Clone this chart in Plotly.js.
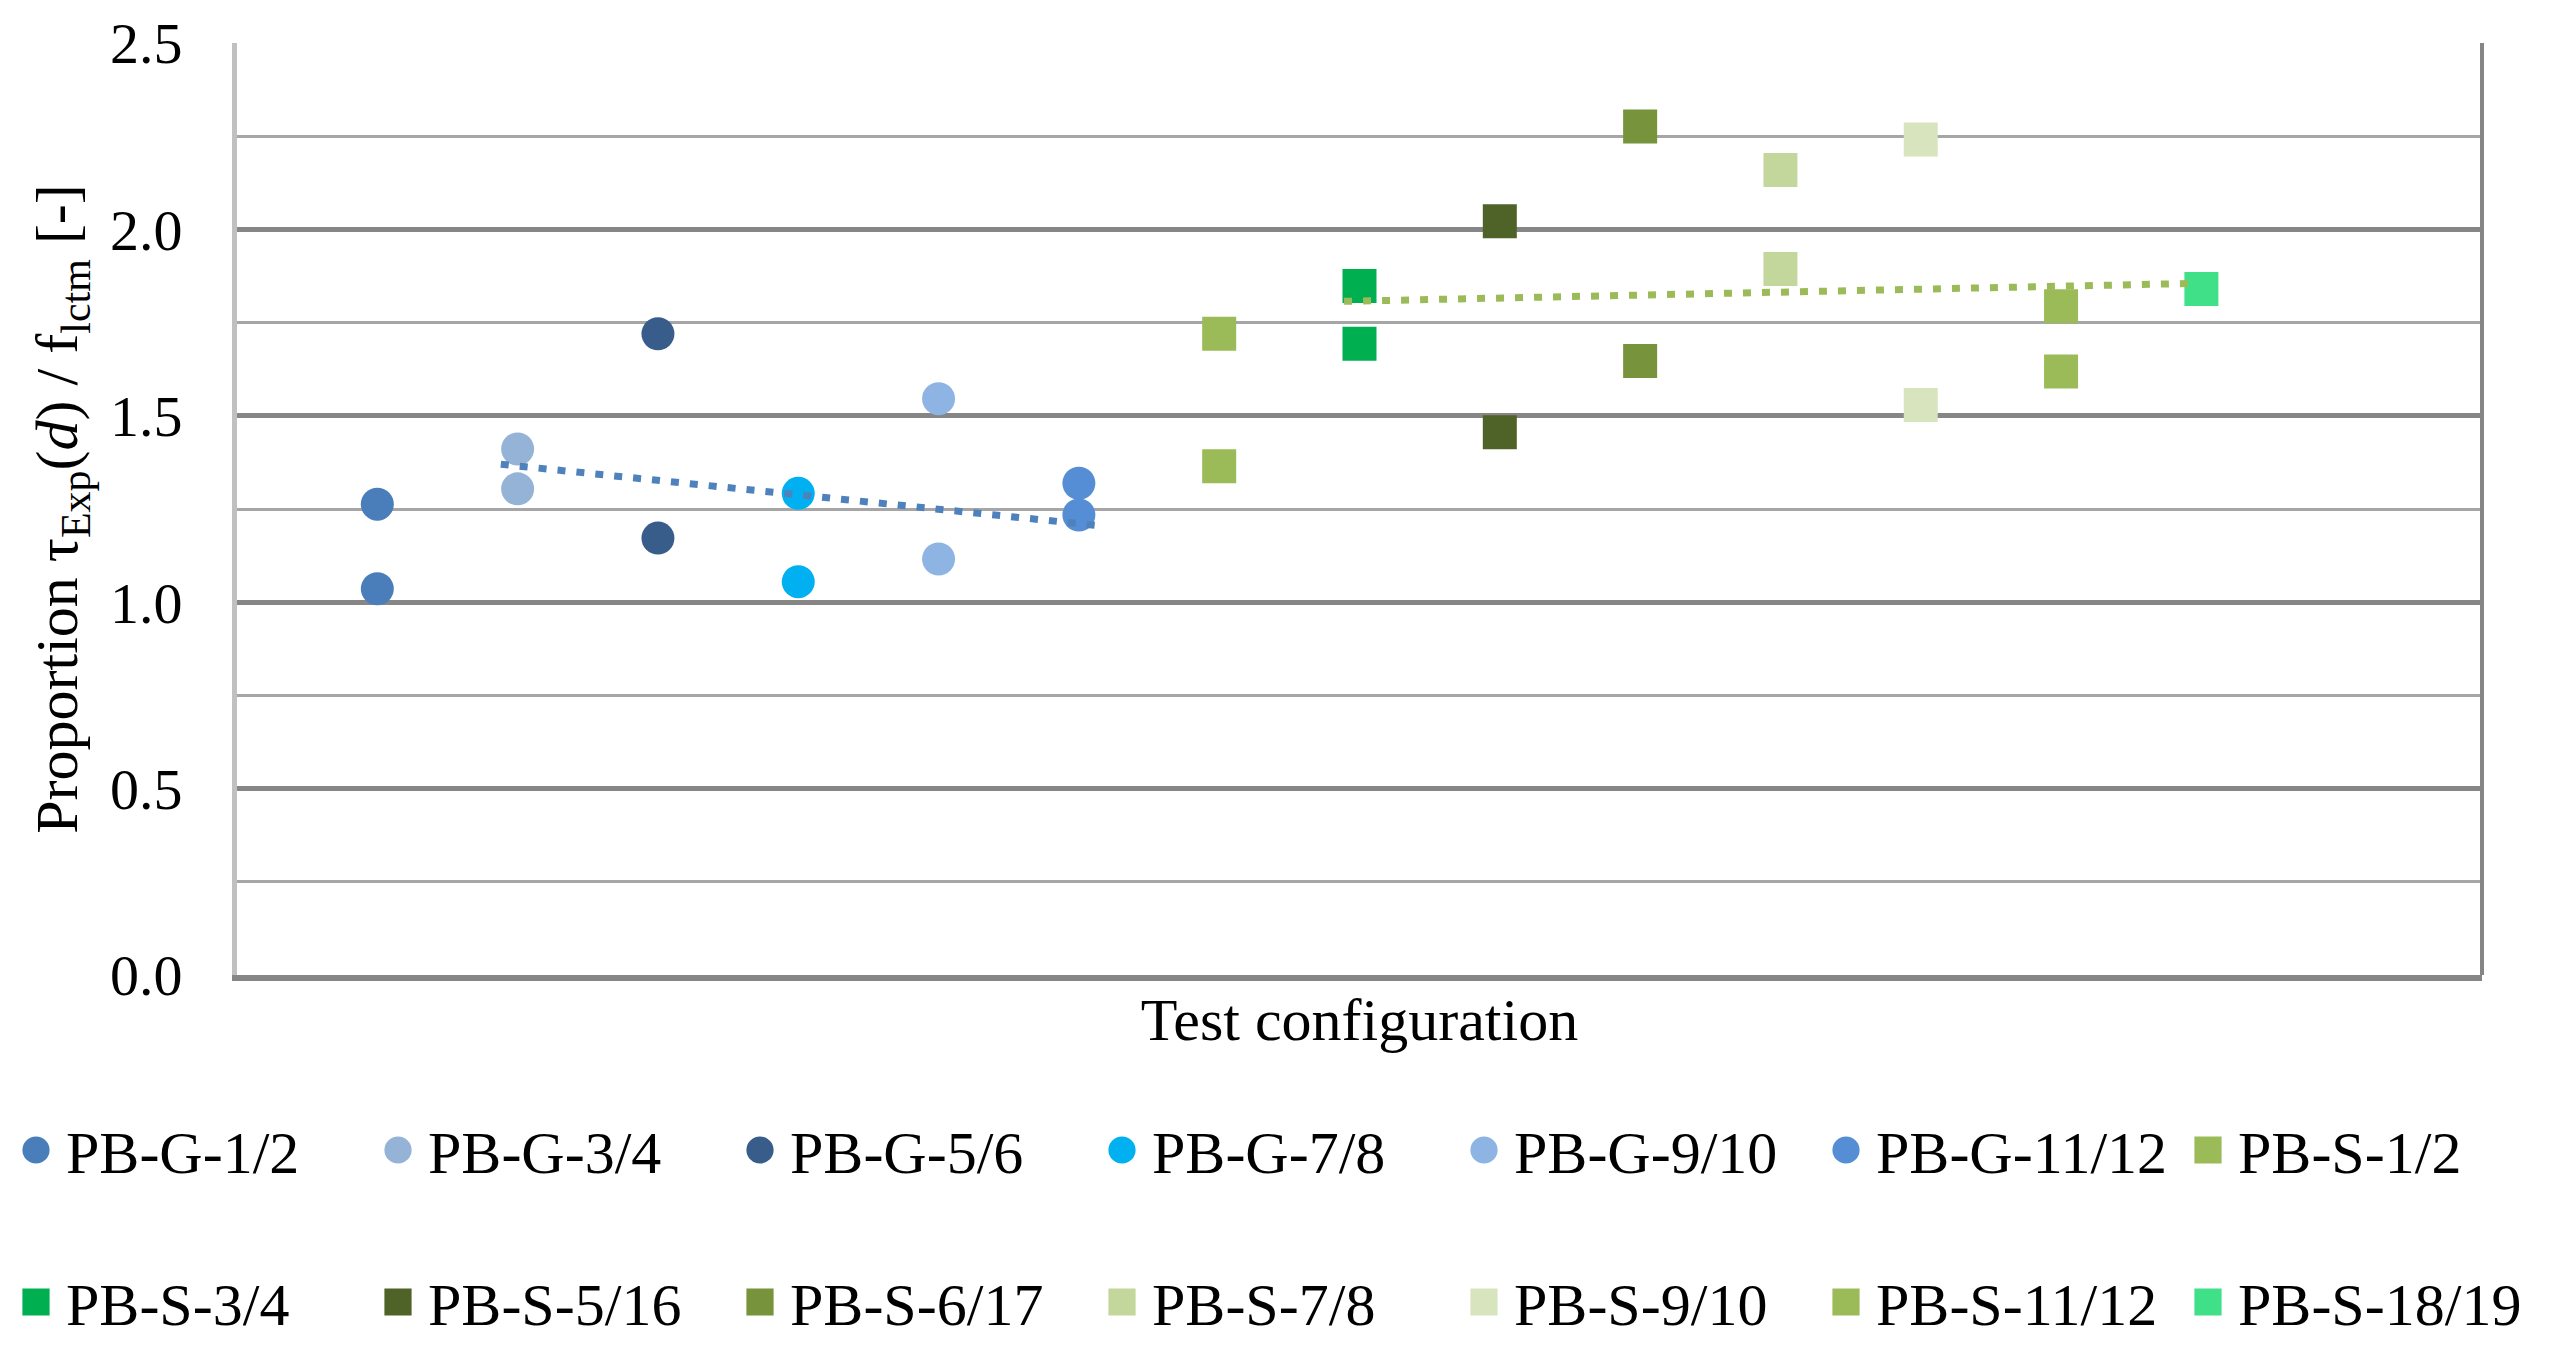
<!DOCTYPE html>
<html><head><meta charset="utf-8">
<script src="https://cdn.plot.ly/plotly-3.0.1.min.js"></script>
<style>html,body{margin:0;padding:0;background:#fff}#chart{width:2550px;height:1357px}</style>
</head><body><div id="chart"></div>
<script>
// ---- data ----
const seriesNames = ['PB-G-1/2','PB-G-3/4','PB-G-5/6','PB-G-7/8','PB-G-9/10','PB-G-11/12','PB-S-1/2',
                     'PB-S-3/4','PB-S-5/16','PB-S-6/17','PB-S-7/8','PB-S-9/10','PB-S-11/12','PB-S-18/19'];
const configPos = [1,2,3,4,5,6,7,8,9,10,11,12,13,14];
const G12   = [1.263, 1.036];
const G34   = [1.411, 1.304];
const G56   = [1.720, 1.172];
const G78   = [1.292, 1.055];
const G910  = [1.546, 1.116];
const G1112 = [1.319, 1.234];
const S12   = [1.720, 1.365];
const S34   = [1.848, 1.693];
const S516  = [2.022, 1.456];
const S617  = [2.276, 1.647];
const S78   = [2.159, 1.894];
const S910  = [2.241, 1.529];
const S1112 = [1.794, 1.619];
const S1819 = [1.840];
const seriesValues = [G12,G34,G56,G78,G910,G1112,S12,S34,S516,S617,S78,S910,S1112,S1819];
const seriesColors = ['#4A7EBB','#95B3D7','#385D8A','#00B0F0','#8EB4E3','#558ED5','#9BBB59',
                      '#00B050','#4F6228','#77933C','#C3D69B','#D7E4BD','#9BBB59','#40E088'];
const trendGx = [1.88, 6.15];
const trendGy = [1.370, 1.205];
const trendSx = [7.89, 13.93];
const trendSy = [1.807, 1.855];
const yTicks = [0, 0.5, 1.0, 1.5, 2.0, 2.5];

const FONT = '"Liberation Serif", "Times New Roman", Times, serif';
const traces = [];
seriesNames.forEach(function(name, i){
  const isG = name.indexOf('PB-G') === 0;
  const vals = seriesValues[i];
  traces.push({
    type:'scatter', mode:'markers', name:name,
    x: vals.map(function(){ return configPos[i]; }),
    y: vals,
    marker:{symbol: isG ? 'circle' : 'square', size: isG ? 33 : 34, color: seriesColors[i], line:{width:0}},
    legend: i < 7 ? 'legend' : 'legend2',
    hoverinfo:'skip'
  });
});
traces.push({type:'scatter', mode:'lines', x:trendGx, y:trendGy, showlegend:false,
  line:{color:'#4F81BD', width:7, dash:'8px,11px'}, hoverinfo:'skip'});
traces.push({type:'scatter', mode:'lines', x:trendSx, y:trendSy, showlegend:false,
  line:{color:'#9BBB59', width:7, dash:'8px,11px'}, hoverinfo:'skip'});

const W = 2550, H = 1357;
const mL = 237, mR = 0, mT = 43, mB = 382;
const plotRight = 2482;
const gsW = W - mL - mR, gsH = H - mT - mB;
const legendCommon = {
  orientation:'h', xanchor:'left', yanchor:'middle',
  x: (6 - mL) / gsW,
  itemwidth: 50, entrywidth: 297, entrywidthmode:'pixels',
  font:{family:FONT, size:60, color:'#000'},
  bgcolor:'rgba(0,0,0,0)', borderwidth:0, traceorder:'normal'
};
const layout = {
  width:W, height:H,
  margin:{l:mL, r:mR, t:mT, b:mB, autoexpand:false},
  paper_bgcolor:'#fff', plot_bgcolor:'#fff',
  font:{family:FONT, color:'#000'},
  showlegend:true,
  legend: Object.assign({}, legendCommon, {y: (mT + gsH - 1150) / gsH}),
  legend2: Object.assign({}, legendCommon, {y: (mT + gsH - 1302) / gsH}),
  xaxis:{
    domain:[0, (plotRight - mL) / gsW],
    range:[0, 16], showticklabels:false, ticks:'', showgrid:false, zeroline:false,
    showline:true, linecolor:'#868686', linewidth:6,
    title:{text:'Test configuration', font:{family:FONT, size:60, color:'#000'}, standoff:20},
    automargin:false, fixedrange:true
  },
  yaxis:{
    range:[0, 2.5], tickvals:yTicks, ticktext:yTicks.map(function(v){return v.toFixed(1);}),
    ticks:'', ticklabelstandoff:38,
    tickfont:{family:FONT, size:58, color:'#000'},
    showgrid:true, gridcolor:'#868686', gridwidth:5, zeroline:false,
    minor:{dtick:0.25, tick0:0, showgrid:true, gridcolor:'#a6a6a6', gridwidth:3, ticks:''},
    showline:true, linecolor:'#c0c0c0', linewidth:5,
    title:{text:'Proportion τ<sub>Exp</sub>(<i>d</i>) / f<sub>lctm</sub> [-]', font:{family:FONT, size:60, color:'#000'}, standoff:14},
    automargin:false, fixedrange:true
  },
  shapes:[{type:'line', xref:'x domain', yref:'y domain', x0:1, x1:1, y0:0, y1:1,
           line:{color:'#868686', width:4}}]
};

Plotly.newPlot('chart', traces, layout, {staticPlot:true, displayModeBar:false}).then(function(){
  document.querySelectorAll('g.legend path.scatterpts, g.legend2 path.scatterpts, .infolayer g[class^="legend"] path.scatterpts').forEach(function(p){
    if (p.getAttribute('data-scaled')) return;
    const t = p.getAttribute('transform') || '';
    p.setAttribute('transform', t + ' scale(1.7)');
    p.setAttribute('data-scaled', '1');
  });
});
</script></body></html>
